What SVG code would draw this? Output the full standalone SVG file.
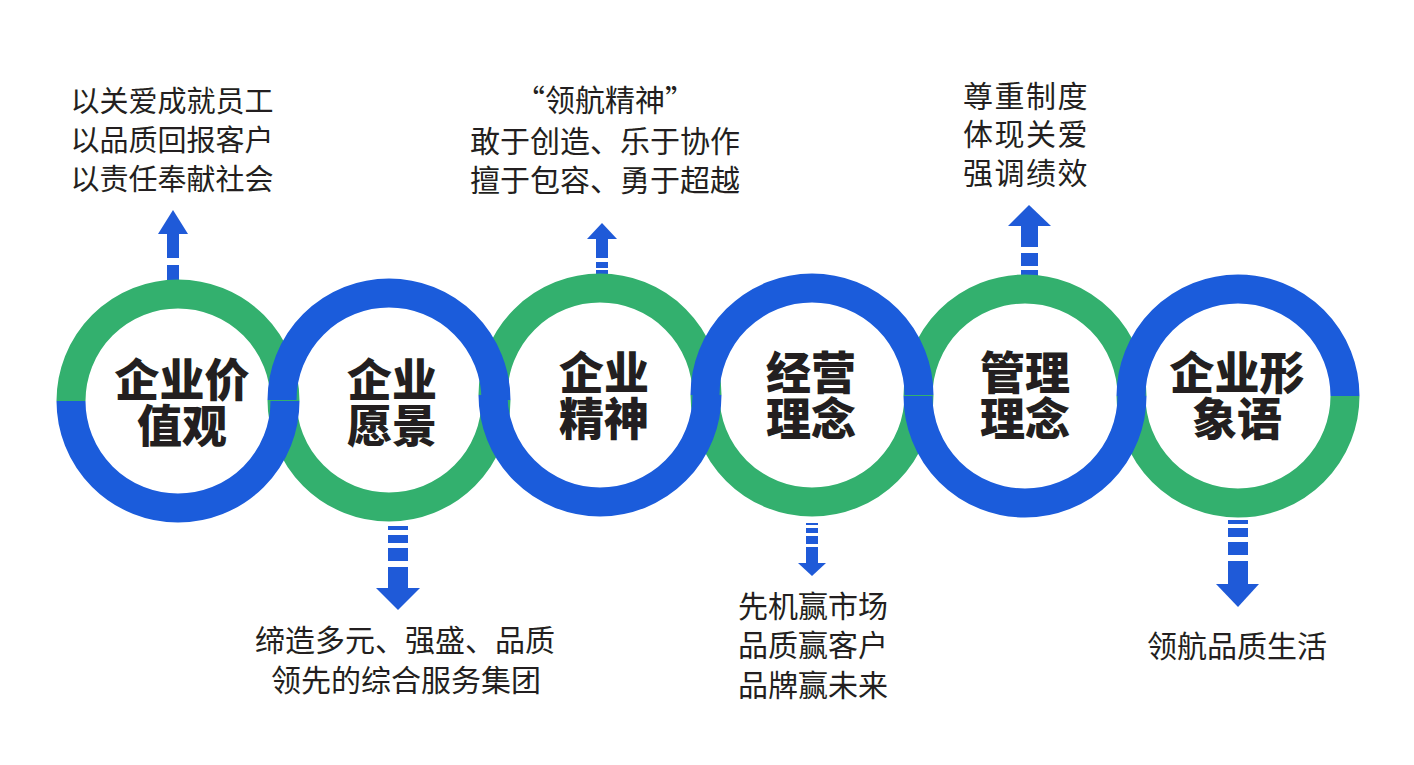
<svg xmlns="http://www.w3.org/2000/svg" width="1414" height="765" viewBox="0 0 1414 765">
<style>
.g{fill:none;stroke:#33B06E;stroke-width:29}
.b{fill:none;stroke:#1B5CDB;stroke-width:29}
.ar{fill:#1F5AD8}
.t{font-family:"Noto Sans CJK SC","Noto Sans",sans-serif;font-size:30px;fill:#231F20;text-anchor:middle}
.s{font-size:29px}
.w{letter-spacing:1.5px}
.h{font-family:"Noto Sans CJK SC","Noto Sans",sans-serif;font-size:45px;font-weight:900;fill:#231F20;text-anchor:middle}
</style>
<rect width="1414" height="765" fill="#ffffff"/>
<g id="connectors">
  <g id="arrow1">
    <polygon class="ar" points="173,210 188,234 158,234"/>
    <rect class="ar" x="167" y="233" width="12" height="25"/>
    <rect class="ar" x="167" y="265" width="12" height="17"/>
  </g>
  <g id="arrow2">
    <rect class="ar" x="388" y="526" width="20" height="4"/>
    <rect class="ar" x="388" y="535" width="20" height="8"/>
    <rect class="ar" x="388" y="548" width="20" height="13"/>
    <rect class="ar" x="388" y="567" width="20" height="22"/>
    <polygon class="ar" points="376,588 420,588 398,610"/>
  </g>
  <g id="arrow3">
    <polygon class="ar" points="602,223 617,239 587,239"/>
    <rect class="ar" x="596" y="238" width="12" height="20"/>
    <rect class="ar" x="596" y="262" width="12" height="6"/>
    <rect class="ar" x="596" y="270" width="12" height="5"/>
  </g>
  <g id="arrow4">
    <rect class="ar" x="806" y="523" width="12" height="2"/>
    <rect class="ar" x="806" y="528" width="12" height="5"/>
    <rect class="ar" x="806" y="536" width="12" height="8"/>
    <rect class="ar" x="806" y="547" width="12" height="17"/>
    <polygon class="ar" points="798,563 826,563 812,576"/>
  </g>
  <g id="arrow5">
    <polygon class="ar" points="1029,205 1051,226 1008,226"/>
    <rect class="ar" x="1021" y="225" width="17" height="22"/>
    <rect class="ar" x="1021" y="253" width="17" height="13"/>
    <rect class="ar" x="1021" y="270" width="17" height="8"/>
  </g>
  <g id="arrow6">
    <rect class="ar" x="1228" y="520" width="20" height="4"/>
    <rect class="ar" x="1228" y="528" width="20" height="9"/>
    <rect class="ar" x="1228" y="542" width="20" height="13"/>
    <rect class="ar" x="1228" y="561" width="20" height="24"/>
    <polygon class="ar" points="1216,584 1259,584 1238,607"/>
  </g>
</g>
<g id="rings-green">
  <path class="g" d="M71,401 A107,107 0 0 1 285,401"/>
  <path class="g" d="M496,400 A107,107 0 0 1 282,400"/>
  <path class="g" d="M493,395 A107,107 0 0 1 707,395"/>
  <path class="g" d="M919,395 A107,107 0 0 1 705,395"/>
  <path class="g" d="M918,396 A107,107 0 0 1 1132,396"/>
  <path class="g" d="M1345,396 A107,107 0 0 1 1131,396"/>
</g>
<g id="rings-blue">
  <path class="b" d="M285,401 A107,107 0 0 1 71,401"/>
  <path class="b" d="M282,400 A107,107 0 0 1 496,400"/>
  <path class="b" d="M707,395 A107,107 0 0 1 493,395"/>
  <path class="b" d="M705,395 A107,107 0 0 1 919,395"/>
  <path class="b" d="M1132,396 A107,107 0 0 1 918,396"/>
  <path class="b" d="M1131,396 A107,107 0 0 1 1345,396"/>
</g>
<g id="node1">
  <text class="h"><tspan x="182" y="397">企业价</tspan><tspan x="182" dy="46">值观</tspan></text>
  <text class="t s"><tspan x="172" y="112">以关爱成就员工</tspan><tspan x="172" dy="39">以品质回报客户</tspan><tspan x="172" dy="39">以责任奉献社会</tspan></text>
</g>
<g id="node2">
  <text class="h"><tspan x="392" y="397">企业</tspan><tspan x="392" dy="46">愿景</tspan></text>
  <text class="t"><tspan x="405" y="651">缔造多元、强盛、品质</tspan><tspan x="406" dy="40">领先的综合服务集团</tspan></text>
</g>
<g id="node3">
  <text class="h"><tspan x="604" y="390">企业</tspan><tspan x="604" dy="46">精神</tspan></text>
  <text class="t"><tspan x="605" y="111">“领航精神”</tspan><tspan x="605" dy="41">敢于创造、乐于协作</tspan><tspan x="605" dy="39">擅于包容、勇于超越</tspan></text>
</g>
<g id="node4">
  <text class="h"><tspan x="811" y="390">经营</tspan><tspan x="811" dy="46">理念</tspan></text>
  <text class="t"><tspan x="813" y="617">先机赢市场</tspan><tspan x="813" dy="39">品质赢客户</tspan><tspan x="813" dy="40">品牌赢未来</tspan></text>
</g>
<g id="node5">
  <text class="h"><tspan x="1025" y="390">管理</tspan><tspan x="1025" dy="46">理念</tspan></text>
  <text class="t w"><tspan x="1026" y="107">尊重制度</tspan><tspan x="1026" dy="38">体现关爱</tspan><tspan x="1026" dy="39">强调绩效</tspan></text>
</g>
<g id="node6">
  <text class="h"><tspan x="1237" y="390">企业形</tspan><tspan x="1237" dy="46">象语</tspan></text>
  <text class="t" x="1237" y="657">领航品质生活</text>
</g>
</svg>
